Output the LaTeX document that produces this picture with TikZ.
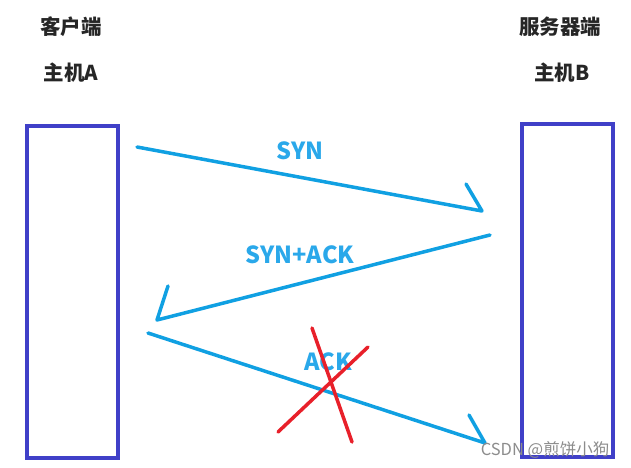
\documentclass[tikz,border=0pt]{standalone}
\usepackage{fontspec}
\newfontfamily\cjk{Noto Sans CJK SC}
\definecolor{hostblue}{HTML}{4040C8}
\definecolor{arrowblue}{HTML}{10A0E2}
\definecolor{labelblue}{HTML}{2AA8EA}
\definecolor{crossred}{HTML}{E8202A}
\begin{document}
\begin{tikzpicture}[x=1pt,y=-1pt,
  host/.style={draw=hostblue,line width=4pt,inner sep=0pt},
  title/.style={font=\cjk\bfseries\fontsize{20.5}{24}\selectfont,text=black!85,inner sep=0pt},
  msg/.style={draw=arrowblue,line width=3.5pt,line cap=round,line join=round},
  lbl/.style={font=\cjk\bfseries\fontsize{23.5}{28}\selectfont,text=labelblue,inner sep=0pt},
  cross/.style={draw=crossred,line width=3.5pt,line cap=round}]
\useasboundingbox (0,0) rectangle (631,467);
\node[host,minimum width=91pt,minimum height=332pt] (A) at (72.5,292) {};
\node[host,minimum width=91pt,minimum height=333pt] (B) at (567.5,290.5) {};
\node[title] (ta) at (71,27) {客户端};
\node[title] (tA) at (71,73) {主机A};
\node[title] (tb) at (560,27) {服务器端};
\node[title] (tB) at (562,73) {主机B};
% SYN
\coordinate (s1) at (137,147);
\coordinate (s2) at (482,211);
\coordinate (s3) at (466,184);
\draw[msg] (s1) -- (s2) -- (s3);
\node[lbl] (syn) at (300,151) {SYN};
% SYN+ACK
\coordinate (a1) at (490,235);
\coordinate (a2) at (157,320);
\coordinate (a3) at (168,286);
\draw[msg] (a1) -- (a2) -- (a3);
\node[lbl] (synack) at (300,255) {SYN+ACK};
% ACK
\coordinate (k1) at (148,333);
\coordinate (k2) at (485,443);
\coordinate (k3) at (469,415);
\node[lbl] (ack) at (328,362) {ACK};
\draw[msg] (k1) -- (k2) -- (k3);
% red cross
\coordinate (r1) at (312,328);
\coordinate (r2) at (352,442);
\coordinate (r3) at (368,347);
\coordinate (r4) at (278,432);
\draw[cross] (r1) -- (r2);
\draw[cross] (r3) -- (r4);
% watermark
\node[font=\cjk\fontsize{16.5}{19}\selectfont,text=black!45,inner sep=0pt] (wm) at (545,450) {CSDN @煎饼小狗};
\end{tikzpicture}
\end{document}
